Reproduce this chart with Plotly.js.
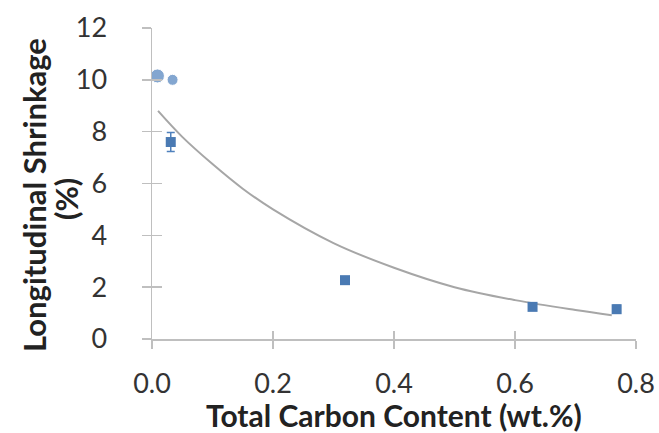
<!DOCTYPE html>
<html><head><meta charset="utf-8">
<script src="https://cdn.plot.ly/plotly-3.0.1.min.js"></script>
<style>html,body{margin:0;padding:0;background:#fff}#c{width:659px;height:433px}</style>
</head><body><div id="c"></div>
<script>
const circleX = [0.009, 0.034];
const circleY = [10.15, 10.0];
const squareX = [0.031, 0.319, 0.629, 0.768];
const squareY = [7.6, 2.27, 1.24, 1.15];
const squareErr = [0.37, 0.08, 0.08, 0.15];
const fitX = [0.01, 0.05, 0.1, 0.15, 0.2, 0.3, 0.4, 0.5, 0.6, 0.7, 0.76];
const fitY = [8.8, 7.8, 6.75, 5.8, 5.0, 3.7, 2.75, 2.0, 1.5, 1.12, 0.92];
const xTicks = [0, 0.2, 0.4, 0.6, 0.8];
const xTickText = ['0.0', '0.2', '0.4', '0.6', '0.8'];
const yTicks = [0, 2, 4, 6, 8, 10, 12];
const yTitle1 = 'Longitudinal Shrinkage';
const yTitle2 = '(%)';
const xTitle = 'Total Carbon Content (wt.%)';

const blue = '#4f81bd';
const axisLine = '#bfbfbf';
const traces = [
  {x: fitX, y: fitY, mode: 'lines', line: {color: '#a6a6a6', width: 2, shape: 'spline'}, hoverinfo: 'skip'},
  {x: squareX, y: squareY, mode: 'markers', marker: {symbol: 'square', size: 10, color: '#4a7ab3'},
   error_y: {type: 'data', array: squareErr, color: blue, thickness: 1.5, width: 4}},
  {x: circleX, y: circleY, mode: 'markers', marker: {symbol: 'circle', size: [14, 11], color: blue}},
  {x: fitX, y: fitY, xaxis: 'x2', yaxis: 'y2', mode: 'lines', line: {width: 0}, opacity: 0, hoverinfo: 'skip'}
];
const common = {showgrid: false, zeroline: false};
const layout = {
  width: 659, height: 433,
  margin: {l: 152, r: 23, t: 28, b: 94},
  showlegend: false,
  paper_bgcolor: '#fff', plot_bgcolor: '#fff',
  font: {family: 'Lato, "Open Sans", sans-serif', color: '#333'},
  xaxis: Object.assign({}, common, {
    range: [0, 0.8], tickvals: xTicks, ticktext: xTickText,
    showline: true, linecolor: axisLine, linewidth: 1.5,
    ticks: 'outside', ticklen: 8, tickcolor: axisLine, tickwidth: 1.5,
    ticklabelstandoff: 12,
    tickfont: {size: 27, color: '#333'}
  }),
  yaxis: Object.assign({}, common, {
    range: [0, 12], tickvals: yTicks,
    showline: true, linecolor: axisLine, linewidth: 1.5,
    ticks: 'outside', ticklen: 9, tickcolor: axisLine, tickwidth: 1.5,
    ticklabelstandoff: 29,
    tickfont: {size: 27, color: '#333'}
  }),
  xaxis2: Object.assign({}, common, {
    overlaying: 'x', anchor: 'y2', range: [0, 0.8], tickvals: xTicks,
    showticklabels: false, showline: false,
    ticks: 'inside', ticklen: 8, tickcolor: axisLine, tickwidth: 1.5
  }),
  yaxis2: Object.assign({}, common, {
    overlaying: 'y', anchor: 'x2', range: [0, 12], tickvals: yTicks,
    showticklabels: false, showline: false,
    ticks: 'inside', ticklen: 10, tickcolor: axisLine, tickwidth: 1.5
  }),
  annotations: [
    {text: '<b>' + xTitle + '</b>', xref: 'paper', yref: 'paper', x: 0.5, y: -0.244,
     xanchor: 'center', yanchor: 'middle', showarrow: false,
     font: {size: 30, color: '#222'}},
    {text: '<b>' + yTitle1 + '</b>', xref: 'paper', yref: 'paper', x: -0.2438, y: 0.463,
     xanchor: 'center', yanchor: 'middle', textangle: -90, showarrow: false,
     font: {size: 31, color: '#222'}},
    {text: '<b>' + yTitle2 + '</b>', xref: 'paper', yref: 'paper', x: -0.1776, y: 0.45,
     xanchor: 'center', yanchor: 'middle', textangle: -90, showarrow: false,
     font: {size: 31, color: '#222'}}
  ]
};
Plotly.newPlot('c', traces, layout, {displayModeBar: false, staticPlot: true});
</script></body></html>
